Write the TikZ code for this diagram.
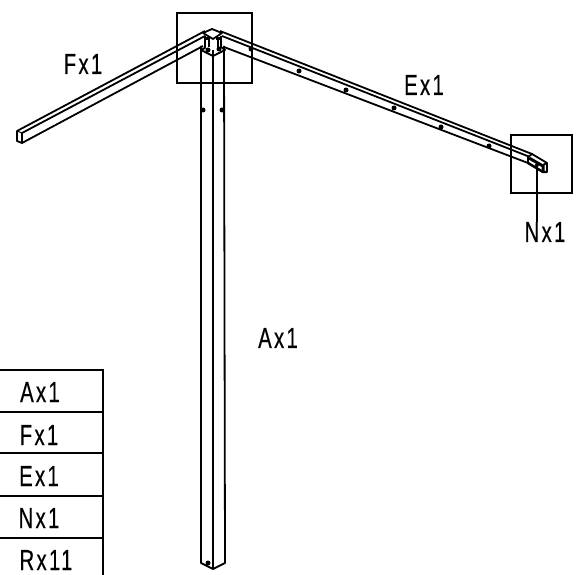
\documentclass[tikz,border=0pt]{standalone}
\usepackage{fontspec}
\setmainfont[FakeStretch=0.70,LetterSpace=8,FakeBold=0.4]{Liberation Sans}
\tikzset{
  x=1pt,y=-1pt,
  ln/.style={line width=1.8pt,line join=round},
  lbl/.style={font=\fontsize{29}{29}\selectfont,inner sep=0pt,text=black},
  tbl/.style={lbl,anchor=base},
  hole/.style={circle,fill=black,inner sep=0pt,minimum size=5pt},
}
\begin{document}
\begin{tikzpicture}
\useasboundingbox (0,0) rectangle (581,575);
% callout squares
\node[draw,line width=1.7pt,minimum width=75pt,minimum height=70pt,inner sep=0pt] (sqa) at (214.5,48) {};
\node[draw,line width=1.7pt,minimum width=61pt,minimum height=58pt,inner sep=0pt] (sqb) at (541.5,164) {};
% post
\draw[ln] (201,46) -- (201,563) -- (213,569) -- (225,563) -- (224,46);
\draw[ln] (213,50) -- (213,569);
\node[hole] (pa) at (203,110) {};
\node[hole] (pb) at (222,110) {};
\node[hole] (pc) at (208,563) {};
% left beam
\draw[ln] (205,31) -- (17,131) -- (17,141) -- (22,143) -- (22,133) -- (205,36);
\draw[ln] (22,143) -- (203,46);
\draw[line width=1pt] (17,131) -- (22,133);
% right beam
\draw[ln] (220,31) -- (532,154);
\draw[ln] (222,36) -- (530,157);
\draw[ln] (224,47) -- (528,163);
\draw[ln,fill=white] (528,157) -- (532,154) -- (547,163) -- (547,172) -- (543,172) -- (528,163) -- cycle;
\draw[line width=3pt] (529,158) -- (543,166) -- (543,172);
\draw[ln] (543,165) -- (547,163);
\node[hole,minimum size=4pt] (nb) at (537,165) {};
\draw[line width=2.4pt] (528,163) -- (543,172) -- (547,172);
\foreach \p/\q in {251/49,299/71,346/90,394/108,441/127,489/146}
  \node[hole,minimum size=5pt] at (\p,\q) {};
% joint
\draw[ln,fill=white] (203,33) -- (212,29) -- (222,33) -- (213,39) -- cycle;
\draw[ln] (205,36) -- (205,48) -- (201,50) -- (213,56) -- (225,50) -- (221,47) -- (221,36);
\draw[ln] (209,38) -- (209,47);
\draw[ln] (218,38) -- (218,47);
\draw[line width=3pt] (205,39) -- (210,39) (216,39) -- (221,39);
\node[hole,minimum size=5pt] (ja) at (208,50) {};
\node[hole,minimum size=5pt] (jb) at (219,49) {};
% labels
\node[lbl] (fx) at (83,64) {Fx1};
\node[lbl] (ex) at (424,85) {Ex1};
\node[lbl] (nx) at (545,232) {Nx1};
\node[lbl] (ax) at (278,338) {Ax1};
\coordinate (nt) at (537,166);
\draw[line width=1.4pt] (nt) -- (nt |- nx.north);
% table
\draw[line width=1.7pt] (0,370) -- (103,370) -- (103,575);
\foreach \y in {412,453,496,538} \draw[line width=1.5pt] (0,\y) -- (103,\y);
\node[tbl] (ta) at (40,402) {Ax1};
\node[tbl] (tf) at (39,445) {Fx1};
\node[tbl] (te) at (39,486) {Ex1};
\node[tbl] (tn) at (39,528) {Nx1};
\node[tbl] (tr) at (46,570) {Rx11};
\end{tikzpicture}
\end{document}
